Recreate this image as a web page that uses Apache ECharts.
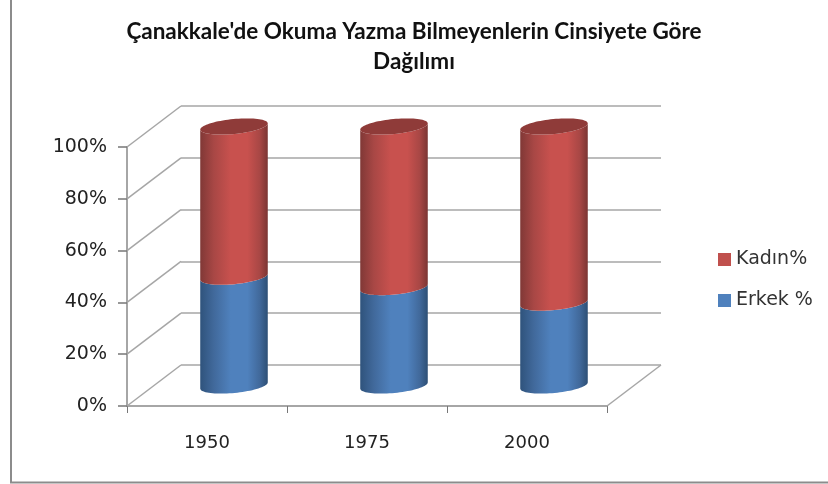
<!DOCTYPE html>
<html><head><meta charset="utf-8">
<style>html,body{margin:0;padding:0;background:#fff}#c{width:828px;height:484px}</style>
<script src="https://cdn.jsdelivr.net/npm/echarts@6/dist/echarts.min.js"></script>
</head><body><div id="c"></div>
<script>
var titleText = "Çanakkale'de Okuma Yazma Bilmeyenlerin Cinsiyete Göre\nDağılımı";
var years = ['1950', '1975', '2000'];
var erkek = [42, 38, 32];
var kadin = [58, 62, 68];
var yTicks = [0, 20, 40, 60, 80, 100];
var depth = { dx: 54, dy: -41 };

var chart = echarts.init(document.getElementById('c'));
var lineColor = '#a6a6a6';
var tilt = 5.5 * Math.PI / 180;

function ellipsePts(cx, cy, a, b, from, to, n) {
  var pts = [];
  for (var i = 0; i <= n; i++) {
    var t = from + (to - from) * i / n;
    pts.push([
      cx + a * Math.cos(t) * Math.cos(tilt) + b * Math.sin(t) * Math.sin(tilt),
      cy - a * Math.cos(t) * Math.sin(tilt) + b * Math.sin(t) * Math.cos(tilt)
    ]);
  }
  return pts;
}
function sideGrad(edgeL, mid, edgeR) {
  return new echarts.graphic.LinearGradient(0, 0, 1, 0, [
    { offset: 0, color: edgeL }, { offset: 0.2, color: mid[0] },
    { offset: 0.45, color: mid[1] }, { offset: 0.7, color: mid[1] },
    { offset: 0.88, color: mid[0] }, { offset: 1, color: edgeR }
  ]);
}
var cylStyles = {
  blue: function () { return sideGrad('#2f537c', ['#41699b', '#4f81bd'], '#2d4f75'); },
  red: function () { return sideGrad('#803836', ['#a84745', '#c8514e'], '#7b3533'); }
};
function cylinderRender(kind, cap) {
  return function (params, api) {
    var base = api.coord([api.value(0), api.value(1)]);
    var top = api.coord([api.value(0), api.value(2)]);
    var band = api.size([1, 0])[0];
    var a = band * 0.212, b = a * 0.22;
    var ox = depth.dx / 2, oy = depth.dy / 2;
    var lower = ellipsePts(base[0] + ox, base[1] + oy, a, b, Math.PI, 0, 40);
    var upper = ellipsePts(top[0] + ox, top[1] + oy, a, b, 0, Math.PI, 40);
    var kids = [{
      type: 'polygon', shape: { points: lower.concat(upper) },
      style: { fill: cylStyles[kind]() }
    }];
    if (cap) {
      kids.push({
        type: 'polygon',
        shape: { points: ellipsePts(top[0] + ox, top[1] + oy, a, b, 0, Math.PI * 2, 80) },
        style: { fill: '#8f3b39' }
      });
    }
    return { type: 'group', children: kids };
  };
}
// value 0: category index, value 1: tick value, value 2: which band edge (-1 left, 1 right)
function wallRender(params, api) {
  var p = api.coord([api.value(0), api.value(1)]);
  var x = p[0] + api.value(2) * api.size([1, 0])[0] / 2;
  return {
    type: 'line',
    shape: { x1: x, y1: p[1], x2: x + depth.dx, y2: p[1] + depth.dy },
    style: { stroke: lineColor, lineWidth: 1.5, fill: null }
  };
}

var erkekData = years.map(function (y, i) { return [i, 0, erkek[i]]; });
var kadinData = years.map(function (y, i) { return [i, erkek[i], erkek[i] + kadin[i]]; });

var frontGrid = { left: 127, top: 147, width: 480, height: 259 };

chart.setOption({
  animation: false,
  backgroundColor: '#fff',
  title: {
    text: titleText, left: 409, top: 12, textAlign: 'center',
    textStyle: { fontFamily: 'Lato', fontWeight: 'bold', fontSize: 22.5, lineHeight: 30, color: '#111' }
  },
  legend: {
    orient: 'vertical', left: 718, top: 249, padding: 0, itemWidth: 13, itemHeight: 13, itemGap: 20,
    icon: 'rect', data: ['Kadın%', 'Erkek %'], selectedMode: false,
    textStyle: { fontFamily: 'DejaVu Sans', fontSize: 19, color: '#333', lineHeight: 21 }
  },
  grid: [
    frontGrid,
    { left: frontGrid.left + depth.dx, top: frontGrid.top + depth.dy, width: frontGrid.width, height: frontGrid.height }
  ],
  xAxis: [
    {
      type: 'category', gridIndex: 0, data: years,
      axisLine: { onZero: false, lineStyle: { color: lineColor, width: 2 } },
      axisTick: { show: true, length: 7, lineStyle: { color: '#777', width: 1 } },
      axisLabel: { fontFamily: 'DejaVu Sans', fontSize: 18, color: '#222', margin: 28 }
    },
    { type: 'category', gridIndex: 1, data: years, show: false }
  ],
  yAxis: [
    {
      type: 'value', gridIndex: 0, min: 0, max: 100, interval: 20,
      axisLine: { show: true, onZero: false, lineStyle: { color: lineColor, width: 2 } },
      axisTick: { show: true, length: 9, lineStyle: { color: '#777', width: 1.5 } },
      axisLabel: { formatter: '{value}%', fontFamily: 'DejaVu Sans', fontSize: 19, color: '#222', margin: 20, padding: [3, 0, 0, 0] },
      splitLine: { show: false }
    },
    {
      type: 'value', gridIndex: 1, min: 0, max: 100, interval: 20,
      axisLine: { show: false }, axisTick: { show: false }, axisLabel: { show: false },
      splitLine: { show: true, lineStyle: { color: lineColor, width: 1.5 } }
    }
  ],
  graphic: [
    { type: 'line', shape: { x1: 11, y1: 0, x2: 11, y2: 482 }, style: { stroke: '#8c8c8c', lineWidth: 2 } },
    { type: 'line', shape: { x1: 10, y1: 482.5, x2: 828, y2: 482.5 }, style: { stroke: '#8c8c8c', lineWidth: 2 } }
  ],
  series: [
    { type: 'custom', name: 'walls', xAxisIndex: 0, yAxisIndex: 0, renderItem: wallRender, silent: true,
      data: yTicks.map(function (v) { return [0, v, -1]; }), encode: { x: 0, y: 1 }, z: 1 },
    { type: 'custom', name: 'floor', xAxisIndex: 0, yAxisIndex: 0, renderItem: wallRender, silent: true,
      data: [[years.length - 1, 0, 1]], encode: { x: 0, y: 1 }, z: 1 },
    { type: 'custom', name: 'Erkek %', xAxisIndex: 0, yAxisIndex: 0, renderItem: cylinderRender('blue', false),
      data: erkekData, encode: { x: 0, y: [1, 2] }, itemStyle: { color: '#4f81bd' }, z: 3 },
    { type: 'custom', name: 'Kadın%', xAxisIndex: 0, yAxisIndex: 0, renderItem: cylinderRender('red', true),
      data: kadinData, encode: { x: 0, y: [1, 2] }, itemStyle: { color: '#c0504d' }, z: 3 }
  ]
});
</script></body></html>
